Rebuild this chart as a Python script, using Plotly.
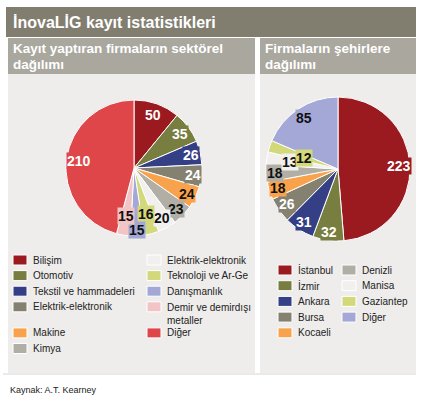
import math
import plotly.graph_objects as go

W, H = 423, 400

# ---------------- data ----------------
title_text = "İnovaLİG kayıt istatistikleri"
left_title = ["Kayıt yaptıran firmaların sektörel", "dağılımı"]
right_title = ["Firmaların şehirlere", "dağılımı"]
source_text = "Kaynak: A.T. Kearney"

sector_labels = ["Bilişim", "Otomotiv", "Tekstil ve hammadeleri", "Elektrik-elektronik",
                 "Makine", "Kimya", "Elektrik-elektronik", "Teknoloji ve Ar-Ge",
                 "Danışmanlık", "Demir ve demirdışı metaller", "Diğer"]
sector_values = [50, 35, 26, 24, 24, 23, 20, 16, 15, 15, 210]

city_labels = ["İstanbul", "İzmir", "Ankara", "Bursa", "Kocaeli",
               "Denizli", "Manisa", "Gaziantep", "Diğer"]
city_values = [223, 32, 31, 26, 18, 18, 13, 12, 85]

# ---------------- styles ----------------
sector_colors = ["#9A1A1F", "#787E40", "#353F86", "#858171", "#F9A24C", "#B0AEA5",
                 "#F1F0EE", "#D3D97A", "#A3A8D6", "#F3C4C5", "#DE4649"]
sector_text_colors = ["white", "white", "white", "white", "#111", "#111",
                      "#111", "#111", "#111", "#111", "white"]
sector_label_r = [0.83, 0.84, 0.86, 0.88, 0.87, 0.86, 0.84, 0.70, 0.91, 0.71, 0.82]

city_colors = ["#9A1A1F", "#787E40", "#353F86", "#858171", "#F9A24C",
               "#B0AEA5", "#F1F0EE", "#D3D97A", "#A3A8D6"]
city_text_colors = ["white", "white", "white", "white", "#111", "#111", "#111", "#111", "#111"]
city_label_r = [0.85, 0.89, 0.88, 0.86, 0.87, 0.87, 0.68, 0.50, 0.85]

FONT = "Liberation Sans, Arial, sans-serif"
PANEL = "#EEEDEB"
TITLE_BG = "#817E70"
SUB_BG = "#A9A79E"

def px(x):
    return x / W

def py(y):
    return 1 - y / H

# pie geometry (pixel)
L_CX, L_CY, L_R = 134, 168, 68
R_CX, R_CY, R_R = 338, 169, 72

fig = go.Figure()

def add_pie(labels, values, colors, cx, cy, r):
    # make duplicate labels unique so slices are not merged
    seen = {}
    uniq = []
    for lab in labels:
        seen[lab] = seen.get(lab, 0) + 1
        uniq.append(lab + "\u200b" * (seen[lab] - 1))
    fig.add_trace(go.Pie(
        labels=uniq, values=values, sort=False, direction="clockwise", rotation=0,
        marker=dict(colors=colors, line=dict(color="white", width=1)),
        textinfo="none", hoverinfo="label+value", showlegend=False,
        domain=dict(x=[px(cx - r), px(cx + r)], y=[py(cy + r), py(cy - r)]),
    ))

add_pie(sector_labels, sector_values, sector_colors, L_CX, L_CY, L_R)
add_pie(city_labels, city_values, city_colors, R_CX, R_CY, R_R)

annotations = []
shapes = []

def rect(x0, y0, x1, y1, color):
    shapes.append(dict(type="rect", xref="paper", yref="paper",
                       x0=px(x0), x1=px(x1), y0=py(y1), y1=py(y0),
                       fillcolor=color, line=dict(width=0), layer="below"))

# backgrounds
rect(6, 7, 416, 37, TITLE_BG)
rect(8, 38, 255, 74, SUB_BG)
rect(260, 38, 416, 74, SUB_BG)
rect(8, 74, 255, 373, PANEL)
rect(260, 74, 416, 373, PANEL)
shapes.append(dict(type="line", xref="paper", yref="paper",
                   x0=px(3), x1=px(416), y0=py(374), y1=py(374),
                   line=dict(color="#D6D5D1", width=1)))

def text(x, y, s, size, color, bold=False, xanchor="left", yanchor="middle", bg=None):
    a = dict(xref="paper", yref="paper", x=px(x), y=py(y), text=("<b>%s</b>" % s) if bold else s,
             showarrow=False, xanchor=xanchor, yanchor=yanchor, align="left",
             font=dict(family=FONT, size=size, color=color))
    if bg is not None:
        a.update(bgcolor=bg, borderpad=0)
    annotations.append(a)

text(11, 22, title_text, 16, "white", bold=True)
text(11, 48.5, left_title[0], 13.5, "white", bold=True)
text(11, 64.5, left_title[1], 13.5, "white", bold=True)
text(263, 48.5, right_title[0], 13.5, "white", bold=True)
text(263, 64.5, right_title[1], 13.5, "white", bold=True)
text(8, 390, source_text, 9, "#222")

# slice value labels, positioned from cumulative values
def slice_labels(values, colors, tcolors, fr, cx, cy, r):
    total = sum(values)
    cum = 0
    for v, c, tc, f in zip(values, colors, tcolors, fr):
        mid = (cum + v / 2) / total * 2 * math.pi
        cum += v
        x = cx + f * r * math.sin(mid)
        y = cy - f * r * math.cos(mid)
        text(x, y, str(v), 14, tc, bold=True, xanchor="center", bg=c)

slice_labels(sector_values, sector_colors, sector_text_colors, sector_label_r, L_CX, L_CY, L_R)
slice_labels(city_values, city_colors, city_text_colors, city_label_r, R_CX, R_CY, R_R)

# manual legends
def legend_item(x, y, label, color, size=10):
    shapes.append(dict(type="rect", xref="paper", yref="paper",
                       x0=px(x), x1=px(x + 14), y0=py(y + 5), y1=py(y - 5),
                       fillcolor=color, line=dict(color="white", width=1)))
    if "demirdışı" in label:
        parts = label.split(" ")
        label = " ".join(parts[:3]) + "<br>" + " ".join(parts[3:])
        annotations.append(dict(xref="paper", yref="paper", x=px(x + 18), y=py(y - 7),
                                text=label, showarrow=False, xanchor="left", yanchor="top",
                                align="left", font=dict(family=FONT, size=size, color="#222")))
    else:
        text(x + 18, y, label, size, "#222")

for i, (lab, col) in enumerate(zip(sector_labels, sector_colors)):
    colno, row = (0, i) if i < 6 else (1, i - 6)
    y = 260 + 15.6 * row + (10.5 if row >= 4 else 0)
    x = 13 if colno == 0 else 147
    legend_item(x, y, lab, col)

for i, (lab, col) in enumerate(zip(city_labels, city_colors)):
    colno, row = (0, i) if i < 5 else (1, i - 5)
    y = 270 + 15.7 * row
    x = 278 if colno == 0 else 342
    legend_item(x, y, lab, col)

fig.update_layout(
    width=W, height=H, margin=dict(l=0, r=0, t=0, b=0),
    paper_bgcolor="white", plot_bgcolor="white",
    shapes=shapes, annotations=annotations,
    font=dict(family=FONT),
)

fig.write_html("out.html", config={"displayModeBar": False},
               post_script="document.body.style.margin='0';document.body.style.overflow='hidden';")
